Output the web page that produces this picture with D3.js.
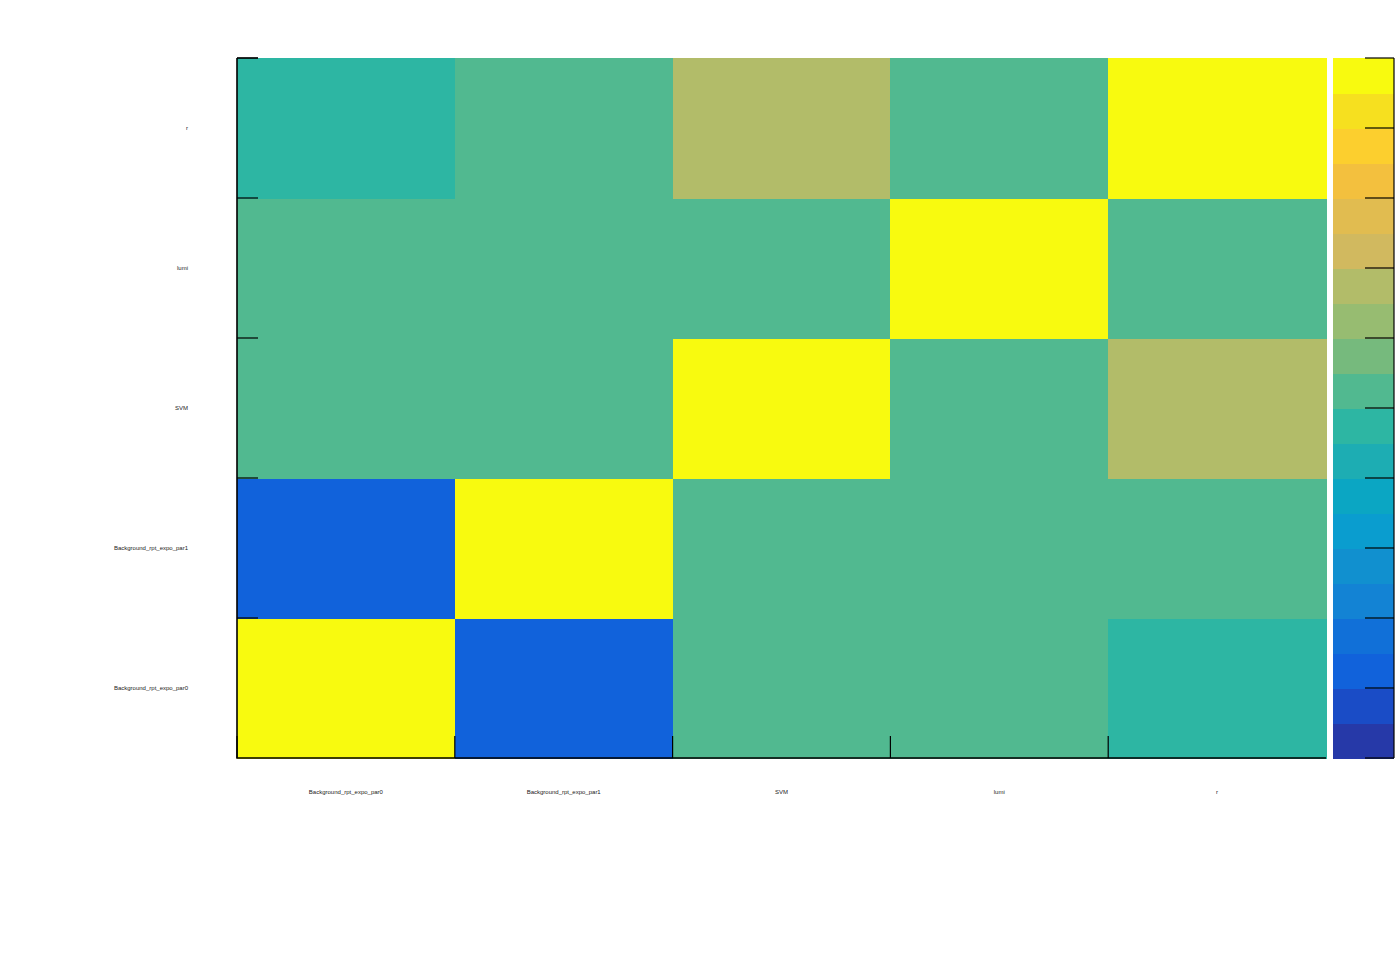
<!DOCTYPE html>
<html lang="en">
<head>
<meta charset="UTF-8">
<title>Correlation matrix</title>
<script src="https://d3js.org/d3.v7.min.js"></script>
<style>
  body { margin: 0; background: #fff; }
  text { font-family: "Liberation Sans", Arial, sans-serif; }
</style>
</head>
<body>
<script type="text/javascript">
var width = 1396, height = 972;

// parameters, same order on both axes (y goes bottom -> top)
var params = ["Background_rpt_expo_par0", "Background_rpt_expo_par1", "SVM", "lumi", "r"];

// correlation rows, one per parameter
var corrPar0 = [1.00, -0.75, 0.02, 0.01, -0.05];
var corrPar1 = [-0.75, 1.00, 0.02, 0.01, 0.05];
var corrSVM  = [0.02, 0.02, 1.00, 0.03, 0.35];
var corrLumi = [0.01, 0.01, 0.03, 1.00, 0.02];
var corrR    = [-0.05, 0.05, 0.35, 0.02, 1.00];
var rows = [corrPar0, corrPar1, corrSVM, corrLumi, corrR];

// 20-step palette, low -> high
var paletteColors = ["#2639a8", "#1a4cc6", "#1162db", "#1170d8", "#1383d4",
                     "#1190cf", "#0a9dcf", "#0ba6c3", "#1dadb3", "#2db6a3",
                     "#51b990", "#76ba7d", "#97bc71", "#b2bc69", "#d1b95f",
                     "#e1bc50", "#f3c03e", "#fccf2e", "#f6e01f", "#f8fa0f"];
var zMin = -1, zMax = 1;

var cells = [];
rows.forEach(function (row, i) {
    row.forEach(function (v, j) {
        cells.push({ x: params[j], y: params[i], v: v });
    });
});

var frame = { left: 237, right: 1326, top: 58, bottom: 758 };
var bar = { left: 1333, right: 1394 };

var svg = d3.select("body").append("svg")
    .attr("width", width).attr("height", height);

var x = d3.scaleBand().domain(params).range([frame.left, frame.right]);
var y = d3.scaleBand().domain(params).range([frame.bottom, frame.top]);

var color = d3.scaleQuantize().domain([zMin, zMax]).range(paletteColors);

svg.append("g").attr("shape-rendering", "crispEdges").selectAll("rect")
    .data(cells)
    .enter().append("rect")
    .attr("x", function (d) { return Math.round(x(d.x)); })
    .attr("y", function (d) { return Math.round(y(d.y)); })
    .attr("width", function (d) { return Math.round(x(d.x) + x.bandwidth()) - Math.round(x(d.x)) + 1; })
    .attr("height", Math.round(y.bandwidth()) + 1)
    .attr("fill", function (d) { return color(d.v); });

// ticks at bin edges
var tickG = svg.append("g").attr("stroke", "#000").attr("stroke-width", 1.2);
params.forEach(function (p) {
    tickG.append("line")
        .attr("x1", x(p)).attr("x2", x(p))
        .attr("y1", frame.bottom).attr("y2", frame.bottom - 22);
    tickG.append("line")
        .attr("x1", frame.left).attr("x2", frame.left + 21)
        .attr("y1", y(p) ).attr("y2", y(p));
});
tickG.append("line")
    .attr("x1", frame.left).attr("x2", frame.left + 21)
    .attr("y1", frame.top).attr("y2", frame.top);

// frame: left and bottom axis lines
svg.append("path")
    .attr("d", "M" + frame.left + "," + frame.top + "V" + frame.bottom + "H" + frame.right)
    .attr("fill", "none").attr("stroke", "#000").attr("stroke-width", 1.6);

// labels
svg.append("g").selectAll("text")
    .data(params).enter().append("text")
    .attr("x", function (d) { return x(d) + x.bandwidth() / 2; })
    .attr("y", 794)
    .attr("text-anchor", "middle")
    .attr("font-size", 6)
    .attr("fill", "#222")
    .text(function (d) { return d; });

svg.append("g").selectAll("text")
    .data(params).enter().append("text")
    .attr("x", 188)
    .attr("y", function (d) { return y(d) + y.bandwidth() / 2 + 2; })
    .attr("text-anchor", "end")
    .attr("font-size", 6)
    .attr("fill", "#222")
    .text(function (d) { return d; });

// palette bar
var z = d3.scaleLinear().domain([zMin, zMax]).range([frame.bottom, frame.top]);
var step = (zMax - zMin) / paletteColors.length;
svg.append("g").attr("shape-rendering", "crispEdges").selectAll("rect")
    .data(paletteColors).enter().append("rect")
    .attr("x", bar.left)
    .attr("y", function (c, i) { return z(zMin + (i + 1) * step); })
    .attr("width", bar.right - bar.left)
    .attr("height", function (c, i) { return z(zMin + i * step) - z(zMin + (i + 1) * step) + 1; })
    .attr("fill", function (c) { return c; });

var zAxis = svg.append("g").attr("stroke", "#000").attr("stroke-width", 1.2);
zAxis.append("line")
    .attr("x1", bar.right).attr("x2", bar.right)
    .attr("y1", frame.top).attr("y2", frame.bottom);
zAxis.selectAll("line.tick")
    .data(d3.range(zMin, zMax + 0.001, 0.2)).enter().append("line")
    .attr("class", "tick")
    .attr("x1", bar.right - 29).attr("x2", bar.right)
    .attr("y1", function (d) { return z(d); })
    .attr("y2", function (d) { return z(d); });
</script>
</body>
</html>
